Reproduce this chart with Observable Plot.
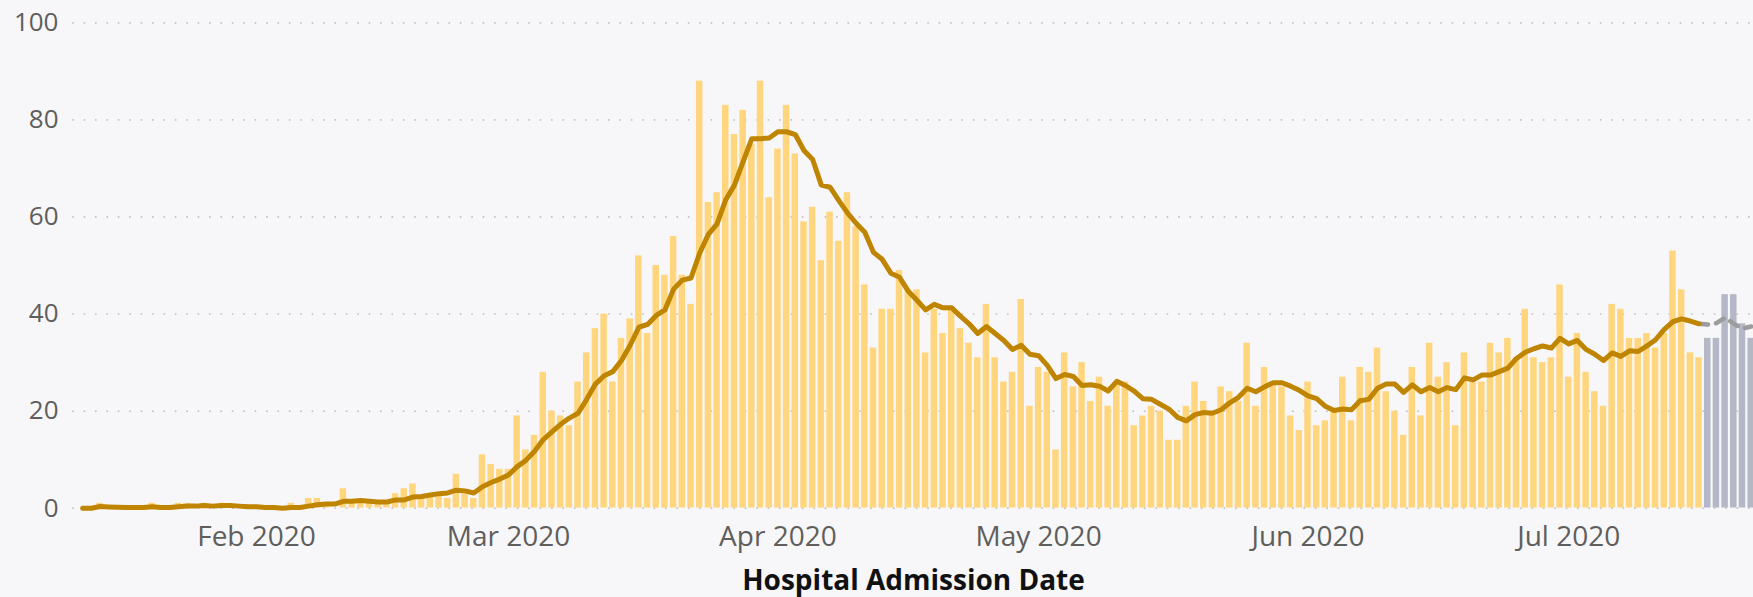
<!DOCTYPE html>
<html><head><meta charset="utf-8">
<script src="https://cdn.jsdelivr.net/npm/d3@7"></script>
<script src="https://cdn.jsdelivr.net/npm/@observablehq/plot@0.6"></script>
<style>
html,body{margin:0;padding:0;background:#f7f7f9;}
#chart svg{display:block;}
</style></head><body><div id="chart"></div>
<script>
// ---- data (daily hospital admissions) ----
const startDate = "2020-01-12";
const janValues = [0,0,1,0,0,0,0,0,1,0,0,1,1,0,1,0,1,0,0,0];               // Jan 12–31
const febValues = [0,0,0,0,1,0,2,2,1,0,4,1,1,1,1,1,3,4,5,2,3,3,2,7,3,2,11,9,8];
const marValues = [8,19,12,15,28,20,19,17,26,32,37,40,26,35,39,52,36,50,48,56,48,42,88,63,65,83,77,82,75,88,64];
const aprValues = [74,83,73,59,62,51,61,55,65,58,46,33,41,41,49,45,45,32,41,36,41,37,34,31,42,31,26,28,43,21];
const mayValues = [29,28,12,32,25,30,22,27,21,26,26,17,19,21,20,14,14,21,26,22,20,25,24,22,34,21,29,26,25,19,16];
const junValues = [26,17,18,20,27,18,29,28,33,24,20,15,29,19,34,27,30,17,32,26,26,34,32,35,31,41,31,30,31,46];
const julValues = [27,36,28,24,21,42,41,35,35,36,33,36,53,45,32,31];          // Jul 1–16
const provisionalValues = [35,35,44,44,38,35];                                 // Jul 17–22 (incomplete)
const yTicks = [0,20,40,60,80,100];
const monthTicks = ["2020-02-01","2020-03-01","2020-04-01","2020-05-01","2020-06-01","2020-07-01"];
const xTitle = "Hospital Admission Date";

// ---- table ----
const DAY = 864e5;
const start = new Date(startDate + "T00:00:00Z");
const confirmed = [...janValues, ...febValues, ...marValues, ...aprValues, ...mayValues, ...junValues, ...julValues];
const data = [];
confirmed.forEach((v, i) => data.push({date: new Date(+start + i * DAY), value: v, provisional: false}));
provisionalValues.forEach((v, i) => data.push({date: new Date(+start + (confirmed.length + i) * DAY), value: v, provisional: true}));
const lastConfirmed = data[confirmed.length - 1].date;

// ---- layout ----
const W = 1753, H = 597;
const mL = 73, mR = 0;
const feb1 = Date.UTC(2020, 1, 1);
const pxPerDay = 8.69, feb1Px = 256;
const domain = [new Date(feb1 - (feb1Px - mL) / pxPerDay * DAY), new Date(feb1 + (W - mR - feb1Px) / pxPerDay * DAY)];
const win = {k: 7, anchor: "end", reduce: "mean"};
const barX = {x1: d => new Date(+d.date - DAY / 2), x2: d => new Date(+d.date + DAY / 2), y: "value", insetLeft: 1.1, insetRight: 1.1, clip: true};

const chart = Plot.plot({
  width: W, height: H,
  marginLeft: mL, marginRight: mR, marginTop: 22.4, marginBottom: 89.3,
  style: {background: "#f7f7f9", fontFamily: "'Open Sans', sans-serif"},
  x: {type: "utc", domain},
  y: {domain: [0, 100]},
  marks: [
    Plot.gridY(yTicks, {stroke: "#c2c2c2", strokeOpacity: 1, strokeWidth: 1.8, strokeDasharray: "0.1,11.3", strokeLinecap: "round"}),
    Plot.rectY(data.filter(d => !d.provisional), {...barX, fill: "#ffd67e"}),
    Plot.rectY(data.filter(d => d.provisional), {...barX, fill: "#b4b7c6"}),
    Plot.lineY(data, Plot.filter(d => d.date >= lastConfirmed,
      Plot.windowY(win, {x: "date", y: "value", stroke: "#9c9c9c", strokeWidth: 4.5, strokeDasharray: "9,8", strokeLinecap: "round", clip: true}))),
    Plot.lineY(data, Plot.filter(d => d.date <= lastConfirmed,
      Plot.windowY(win, {x: "date", y: "value", stroke: "#bf8400", strokeWidth: 5, strokeLinejoin: "round", strokeLinecap: "round"}))),
    Plot.axisY({ticks: yTicks, tickSize: 0, tickPadding: 15, fontSize: 26, fill: "#605e5c", label: null}),
    Plot.axisX({ticks: monthTicks.map(s => new Date(s + "T00:00:00Z")), tickSize: 0, tickPadding: 18,
      tickFormat: d3.utcFormat("%b %Y"), fontSize: 28, fill: "#605e5c", label: null}),
    Plot.text([xTitle], {frameAnchor: "bottom", dy: 73, text: d => d, fontSize: 28, fontWeight: "bold", fill: "#111", lineAnchor: "middle"})
  ]
});
document.getElementById("chart").append(chart);
</script></body></html>
